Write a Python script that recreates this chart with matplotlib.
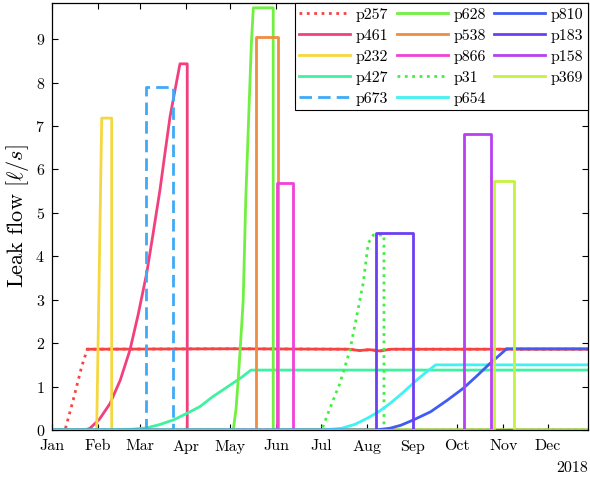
import numpy as np
import pandas as pd
import matplotlib
matplotlib.use('Agg')
import matplotlib.pyplot as plt
import matplotlib.dates as mdates

# шрифт в стиле LaTeX (Computer Modern)
plt.rcParams['font.family'] = 'serif'
plt.rcParams['font.serif'] = ['cmr10']
plt.rcParams['mathtext.fontset'] = 'cm'
plt.rcParams['axes.formatter.use_mathtext'] = True

START = pd.Timestamp('2018-01-01')
END_DAY = 361

# профили утечек: день года -> расход, л/с
p257_days = [0, 8.8, 14.3, 20.0, 23.8, 120, 200, 207, 214, 221, 228, END_DAY]
p257_flow = [0, 0, 0.69, 1.46, 1.86, 1.87, 1.86, 1.83, 1.85, 1.82, 1.86, 1.86]

p461_days = [0, 22.2, 25.6, 32.0, 39.1, 46.0, 52.5, 58.0, 63.8, 68.0, 72.7, 76.0, 79.5, 83.0, 86.2, 91.1, 91.1, END_DAY]
p461_flow = [0, 0, 0.04, 0.25, 0.61, 1.15, 1.84, 2.65, 3.61, 4.50, 5.52, 6.35, 7.21, 7.85, 8.43, 8.43, 0, 0]

p232_days = [0, 30.1, 33.5, 40.2, 40.2, END_DAY]
p232_flow = [0, 0, 7.18, 7.18, 0, 0]

p427_days = [0, 45.8, 55.0, 63.8, 72.0, 81.7, 90.7, 99.7, 108.4, 115.0, 121.9, 128.0, 134.0, END_DAY]
p427_flow = [0, 0, 0.02, 0.05, 0.12, 0.23, 0.38, 0.54, 0.77, 0.92, 1.08, 1.22, 1.38, 1.38]

p673_days = [0, 63.3, 63.3, 81.3, 81.3, END_DAY]
p673_flow = [0, 0, 7.89, 7.89, 0, 0]

p628_days = [0, 122.1, 124.0, 125.5, 127.2, 128.8, 130.5, 132.9, 134.3, 135.6, 149.0, 149.0, END_DAY]
p628_flow = [0, 0, 0.5, 1.2, 2.1, 3.0, 5.3, 7.6, 8.9, 9.72, 9.72, 0, 0]

p538_days = [0, 137.2, 137.2, 152.0, 152.0, END_DAY]
p538_flow = [0, 0, 9.05, 9.05, 0, 0]

p866_days = [0, 151.3, 151.3, 162.1, 162.1, END_DAY]
p866_flow = [0, 0, 5.68, 5.68, 0, 0]

p31_days = [0, 181.6, 189.4, 193.9, 200.7, 207.4, 209.6, 213.0, 216.4, 223.6, 223.6, END_DAY]
p31_flow = [0, 0, 0.69, 1.07, 1.84, 3.0, 3.38, 4.30, 4.49, 4.49, 0, 0]

p654_days = [0, 182.7, 195.0, 204.0, 212.3, 220.0, 227.6, 236.0, 245.6, 252.0, 258.4, END_DAY]
p654_flow = [0, 0, 0.04, 0.13, 0.27, 0.42, 0.61, 0.85, 1.15, 1.33, 1.50, 1.50]

p810_days = [0, 217.5, 227.6, 235.0, 243.3, 255.0, 266.0, 277.0, 286.0, 294.9, 300.0, 306.2, END_DAY]
p810_flow = [0, 0, 0.04, 0.11, 0.23, 0.42, 0.68, 0.96, 1.24, 1.53, 1.68, 1.87, 1.87]

p183_days = [0, 218.0, 218.0, 243.1, 243.1, END_DAY]
p183_flow = [0, 0, 4.53, 4.53, 0, 0]

p158_days = [0, 277.4, 277.4, 295.6, 295.6, END_DAY]
p158_flow = [0, 0, 6.81, 6.81, 0, 0]

p369_days = [0, 297.8, 297.8, 311.3, 311.3, END_DAY]
p369_flow = [0, 0, 5.73, 5.73, 0, 0]

names = ['p257', 'p461', 'p232', 'p427', 'p673', 'p628', 'p538',
         'p866', 'p31', 'p654', 'p810', 'p183', 'p158', 'p369']
all_days = [p257_days, p461_days, p232_days, p427_days, p673_days, p628_days, p538_days,
            p866_days, p31_days, p654_days, p810_days, p183_days, p158_days, p369_days]
all_flow = [p257_flow, p461_flow, p232_flow, p427_flow, p673_flow, p628_flow, p538_flow,
            p866_flow, p31_flow, p654_flow, p810_flow, p183_flow, p158_flow, p369_flow]
colors = ['#F94343', '#F2407F', '#F5D840', '#40F2A0', '#40AAF5', '#70F040', '#F28C40',
          '#F240D8', '#40F040', '#40F2F2', '#405CF2', '#6C40F2', '#B840F2', '#C4F240']
styles = [':', '-', '-', '-', (0, (4.5, 2.2)), '-', '-',
          '-', ':', '-', '-', '-', '-', '-']


def to_dates(days):
    """Перевести номер дня в даты 2018 года."""
    return START + pd.to_timedelta(np.array(days, dtype=float), unit='D')


fig = plt.figure(figsize=(5.9, 4.78), dpi=100)
ax = fig.add_axes([0.0881, 0.1004, 0.9085, 0.8933])

for name, d, f, c, ls in zip(names, all_days, all_flow, colors, styles):
    ax.plot(to_dates(d), f, color=c, linestyle=ls, linewidth=2.0, label=name)
    if name == 'p257':
        # шумная полка выглядит сплошной
        ax.plot(to_dates(d[4:]), f[4:], color=c, linewidth=2.0)

ax.set_xlim(START, START + pd.Timedelta(days=END_DAY))
ax.set_ylim(0, 9.83)
ax.xaxis.set_major_locator(mdates.MonthLocator())
ax.xaxis.set_major_formatter(mdates.DateFormatter('%b'))
ax.set_yticks(range(10))
ax.tick_params(direction='in', top=True, right=True, labelsize=11.5, length=4, width=0.8)
ax.tick_params(axis='x', pad=7)
ax.tick_params(axis='y', pad=5)
for s in ax.spines.values():
    s.set_linewidth(0.9)
ax.set_ylabel(r'Leak flow $[\ell/s]$', fontsize=16, labelpad=3)
ax.text(1.0, -0.09, '2018', transform=ax.transAxes, ha='right', va='center', fontsize=11.5)

leg = ax.legend(ncol=3, loc='upper right', fontsize=11.5, borderaxespad=0,
                handlelength=3.2, handletextpad=0.35, columnspacing=0.5,
                labelspacing=0.42, borderpad=0.3, fancybox=False, framealpha=1)
leg.get_frame().set_edgecolor('black')
leg.get_frame().set_linewidth(0.8)

plt.savefig('out.png', dpi=100)
